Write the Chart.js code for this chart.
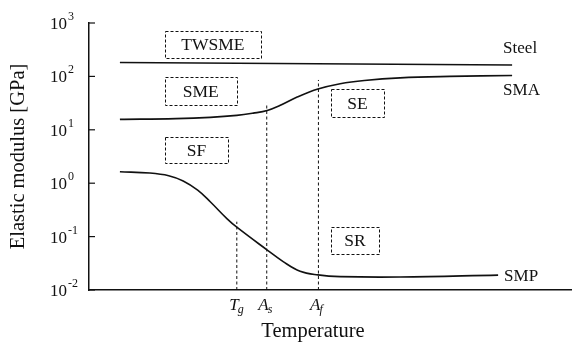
<!DOCTYPE html>
<html>
<head>
<meta charset="utf-8">
<script src="https://cdn.jsdelivr.net/npm/chart.js@4.4.1/dist/chart.umd.min.js"></script>
<style>
  html, body { margin: 0; padding: 0; background: #fff; }
  canvas { display: block; }
</style>
</head>
<body>
<canvas id="grafico" width="572" height="346"></canvas>
<script>
// temperature in arbitrary units (0..100), modulus in GPa
const steelT = [6.4, 87.6];
const steelE = [182, 163];

const smaT = [6.4, 18.0, 25.1, 30.6, 34.0, 36.9, 39.5, 43.1, 47.4, 52.0, 57.0, 64.4, 74.7, 87.6];
const smaE = [15.7, 16.2, 17.1, 18.6, 20.5, 23, 28.5, 41, 58, 73, 84, 94, 100, 104];

const smpT = [6.4, 12.6, 16.5, 19.5, 22.5, 25.1, 28.6, 30.6, 36.9, 40.2, 43.7, 47.4, 52.0, 64.4, 84.7];
const smpE = [1.64, 1.55, 1.38, 1.1, 0.74, 0.45, 0.215, 0.15, 0.056, 0.034, 0.0225, 0.0192, 0.0178, 0.0175, 0.019];

const nomesSeries = ['Steel', 'SMA', 'SMP'];

// transition temperatures (dashed lines)
const transNome = ['T', 'A', 'A'];
const transSub = ['g', 's', 'f'];
const transT = [30.6, 36.8, 47.5];
const transTopo = [0.19, 31.8, 85.7];

const expoentes = [-2, -1, 0, 1, 2, 3];

const regioes = ['TWSME', 'SME', 'SF', 'SE', 'SR'];

const fonte = '"Liberation Serif", "Times New Roman", serif';
const cor = '#111';

// dashed boxes (data units)
const caixas = [
  { x1: 15.7, x2: 35.6, y1: 708, y2: 221 },
  { x1: 15.7, x2: 30.6, y1: 97.5, y2: 29.1 },
  { x1: 15.7, x2: 28.8, y1: 7.3, y2: 2.39 },
  { x1: 50.1, x2: 61.1, y1: 58, y2: 17.4 },
  { x1: 50.1, x2: 60.0, y1: 0.151, y2: 0.047 }
];

function pontos(xs, ys) {
  return xs.map((x, i) => ({ x, y: ys[i] }));
}

const datasets = [];
[[steelT, steelE], [smaT, smaE], [smpT, smpE]].forEach((s, i) => {
  datasets.push({
    label: nomesSeries[i],
    data: pontos(s[0], s[1]),
    borderColor: cor,
    borderWidth: 1.6,
    pointRadius: 0,
    fill: false,
    tension: 0.4
  });
});
transT.forEach((t, i) => {
  datasets.push({
    label: transNome[i] + transSub[i],
    data: [{ x: t, y: 0.01 }, { x: t, y: transTopo[i] }],
    borderColor: cor,
    borderWidth: 1,
    borderDash: [3, 2.5],
    pointRadius: 0,
    fill: false
  });
});

const desenho = {
  id: 'desenho',
  afterDraw(chart) {
    const ctx = chart.ctx;
    const xs = chart.scales.x, ys = chart.scales.y;
    const area = chart.chartArea;
    ctx.save();
    ctx.fillStyle = cor;
    ctx.strokeStyle = cor;

    // y ticks (inward) and labels 10^n
    expoentes.forEach(p => {
      const y = ys.getPixelForValue(Math.pow(10, p));
      ctx.lineWidth = 1.2;
      ctx.beginPath();
      ctx.moveTo(area.left, y);
      ctx.lineTo(area.left + 6, y);
      ctx.stroke();
      ctx.font = '17px ' + fonte;
      ctx.textAlign = 'right';
      ctx.textBaseline = 'alphabetic';
      ctx.fillText('10', area.left - 22, y + 6);
      ctx.font = '12px ' + fonte;
      ctx.textAlign = 'left';
      ctx.fillText(String(p), area.left - 21, y - 3);
    });

    // dashed boxes
    ctx.lineWidth = 1;
    ctx.setLineDash([3, 2]);
    caixas.forEach((c, i) => {
      const x1 = xs.getPixelForValue(c.x1), x2 = xs.getPixelForValue(c.x2);
      const y1 = ys.getPixelForValue(c.y1), y2 = ys.getPixelForValue(c.y2);
      ctx.strokeRect(Math.round(x1) + 0.5, Math.round(y1) + 0.5, Math.round(x2 - x1), Math.round(y2 - y1));
      ctx.font = '17.5px ' + fonte;
      ctx.textAlign = 'center';
      ctx.textBaseline = 'middle';
      ctx.fillText(regioes[i], (x1 + x2) / 2, (y1 + y2) / 2 + 1);
    });
    ctx.setLineDash([]);

    // series names at line ends
    const desloc = [[-9, -12, 'alphabetic'], [-9, 20, 'alphabetic'], [6, 1, 'middle']];
    ctx.font = '17px ' + fonte;
    ctx.textAlign = 'left';
    nomesSeries.forEach((n, i) => {
      const pts = chart.getDatasetMeta(i).data;
      const ult = pts[pts.length - 1];
      ctx.textBaseline = desloc[i][2];
      ctx.fillText(n, ult.x + desloc[i][0], ult.y + desloc[i][1]);
    });

    // transition labels under x axis
    transT.forEach((t, i) => {
      const x = xs.getPixelForValue(t);
      ctx.textBaseline = 'alphabetic';
      ctx.font = 'italic 17px ' + fonte;
      ctx.textAlign = 'right';
      ctx.fillText(transNome[i], x + 2, area.bottom + 20);
      ctx.font = 'italic 12px ' + fonte;
      ctx.textAlign = 'left';
      ctx.fillText(transSub[i], x + 1, area.bottom + 23);
    });

    // axis titles
    ctx.font = '20.5px ' + fonte;
    ctx.textAlign = 'center';
    ctx.textBaseline = 'alphabetic';
    ctx.fillText('Temperature', 313, area.bottom + 47);
    ctx.translate(19, (area.top + area.bottom) / 2);
    ctx.rotate(-Math.PI / 2);
    ctx.textBaseline = 'middle';
    ctx.fillText('Elastic modulus [GPa]', 0, 0);
    ctx.restore();
  }
};

const grafico = new Chart(document.getElementById('grafico').getContext('2d'), {
  type: 'line',
  data: { datasets: datasets },
  options: {
    responsive: false,
    animation: false,
    events: [],
    layout: { padding: { top: 23, right: 0, left: 0, bottom: 0 } },
    plugins: { legend: { display: false }, tooltip: { enabled: false } },
    scales: {
      x: {
        type: 'linear',
        min: 0,
        max: 100,
        grid: { display: false },
        ticks: { display: false },
        border: { color: cor, width: 1.5 },
        afterFit: s => { s.height = 56; }
      },
      y: {
        type: 'logarithmic',
        min: 0.01,
        max: 1000,
        grid: { display: false },
        ticks: { display: false },
        border: { color: cor, width: 1.5 },
        afterFit: s => { s.width = 89; }
      }
    }
  },
  plugins: [desenho]
});
</script>
</body>
</html>
